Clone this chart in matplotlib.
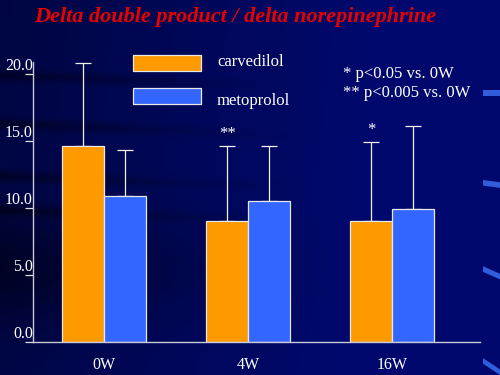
import numpy as np
import matplotlib.pyplot as plt
from matplotlib.patches import Polygon, Rectangle

# データ
weeks = ["0W", "4W", "16W"]
carvedilol = [14.6, 9.0, 9.0]
carvedilol_err = [6.25, 5.6, 5.95]
metoprolol = [10.9, 10.5, 9.95]
metoprolol_err = [3.4, 4.1, 6.15]
stars = ["", "**", "*"]
yticks = [0, 5, 10, 15, 20]
ytick_labels = ["0.0", "5.0", "10.0", "15.0", "20.0"]

ORANGE = "#ff9900"
BLUE = "#3366ff"
serif = "Liberation Serif"

fig = plt.figure(figsize=(5, 3.75), dpi=100)

# 背景 (スライド風のグラデーション)
bg = fig.add_axes([0, 0, 1, 1])
yy, xx = np.mgrid[0:1:375j, 0:1:500j]
shade = 0.6 + 0.4 * np.clip(xx * 1.3 + yy * 0.1, 0, 1)
shade = shade - 0.3 * np.exp(-((yy - 0.72) ** 2) / 0.02) * np.clip(1 - xx * 1.5, 0, 1)
# ぼんやりした暗い筋
for yc in [0.2, 0.33, 0.47, 0.56]:
    shade = shade - 0.25 * np.exp(-((yy - yc - 0.05 * xx) ** 2) / 0.0002) * np.clip(1 - xx * 1.6, 0, 1)
rgb = np.zeros((375, 500, 3))
rgb[..., 2] = 0.43 * shade
rgb[..., 1] = 0.035 * shade
bg.imshow(rgb, extent=[0, 1, 0, 1], aspect="auto", origin="upper")
# 右端の飾り
for (y0, sk) in [(0.745, 0.0), (0.505, 0.006), (0.275, 0.02), (0.03, 0.03)]:
    bg.add_patch(Polygon([[0.966, y0], [1.0, y0 - sk], [1.0, y0 - sk + 0.015], [0.966, y0 + 0.015]],
                         closed=True, color="#3a6cf0", alpha=0.85, lw=0))
bg.set_xlim(0, 1)
bg.set_ylim(0, 1)
bg.axis("off")

ax = fig.add_axes([0.066, 0.088, 0.894, 0.7467])
ax.set_facecolor("none")

x = np.arange(len(weeks))
w = 0.29
ax.bar(x - w / 2, carvedilol, w, color=ORANGE, edgecolor="#e8e8e8", linewidth=0.9, zorder=2)
ax.bar(x + w / 2, metoprolol, w, color=BLUE, edgecolor="#e8e8e8", linewidth=0.9, zorder=2)
ax.errorbar(x - w / 2, carvedilol, yerr=[np.zeros(3), carvedilol_err], fmt="none",
            ecolor="#f0f0f0", elinewidth=0.9, capsize=6, capthick=0.9, zorder=1)
ax.errorbar(x + w / 2, metoprolol, yerr=[np.zeros(3), metoprolol_err], fmt="none",
            ecolor="#f0f0f0", elinewidth=0.9, capsize=6, capthick=0.9, zorder=1)

for i, s in enumerate(stars):
    if s:
        ax.text(x[i] - w / 2, carvedilol[i] + carvedilol_err[i] + 0.3, s, ha="center",
                va="bottom", color="white", fontsize=12, family=serif)

ax.set_xlim(-0.493, 2.611)
ax.set_ylim(0, 20.9)
ax.set_xticks(x)
ax.set_xticklabels(weeks, family=serif, fontsize=11.5, color="white")
ax.tick_params(axis="x", length=0, pad=11)
ax.set_yticks(yticks)
ax.set_yticklabels(ytick_labels, family=serif, fontsize=11.5, color="white", va="bottom")
ax.tick_params(axis="y", direction="out", length=6, width=0.9, color="#e0e0e0", pad=-6)
for sp in ["top", "right"]:
    ax.spines[sp].set_visible(False)
for sp in ["left", "bottom"]:
    ax.spines[sp].set_color("#c8c8d8")
    ax.spines[sp].set_linewidth(1.0)

# 凡例
fig.add_artist(Rectangle((133 / 500, 1 - 71 / 375), 68 / 500, 16 / 375, transform=fig.transFigure,
                         facecolor=ORANGE, edgecolor="#e8e8e8", lw=0.9))
fig.add_artist(Rectangle((133 / 500, 1 - 104 / 375), 68 / 500, 16 / 375, transform=fig.transFigure,
                         facecolor=BLUE, edgecolor="#e8e8e8", lw=0.9))
fig.text(217 / 500, 1 - 62 / 375, "carvedilol", family=serif, fontsize=12, color="white", va="center")
fig.text(217 / 500, 1 - 101 / 375, "metoprolol", family=serif, fontsize=12, color="white", va="center")

fig.text(343 / 500, 1 - 74 / 375, "* p<0.05 vs. 0W", family=serif, fontsize=12, color="white", va="center")
fig.text(343 / 500, 1 - 93 / 375, "** p<0.005 vs. 0W", family=serif, fontsize=12, color="white", va="center")

fig.text(235 / 500, 1 - 17 / 375, "Delta double product / delta norepinephrine", family=serif,
         fontsize=16, fontweight="bold", style="italic", color="#e80000", ha="center", va="center")

fig.savefig("out.png", dpi=100, facecolor="#00066a")
